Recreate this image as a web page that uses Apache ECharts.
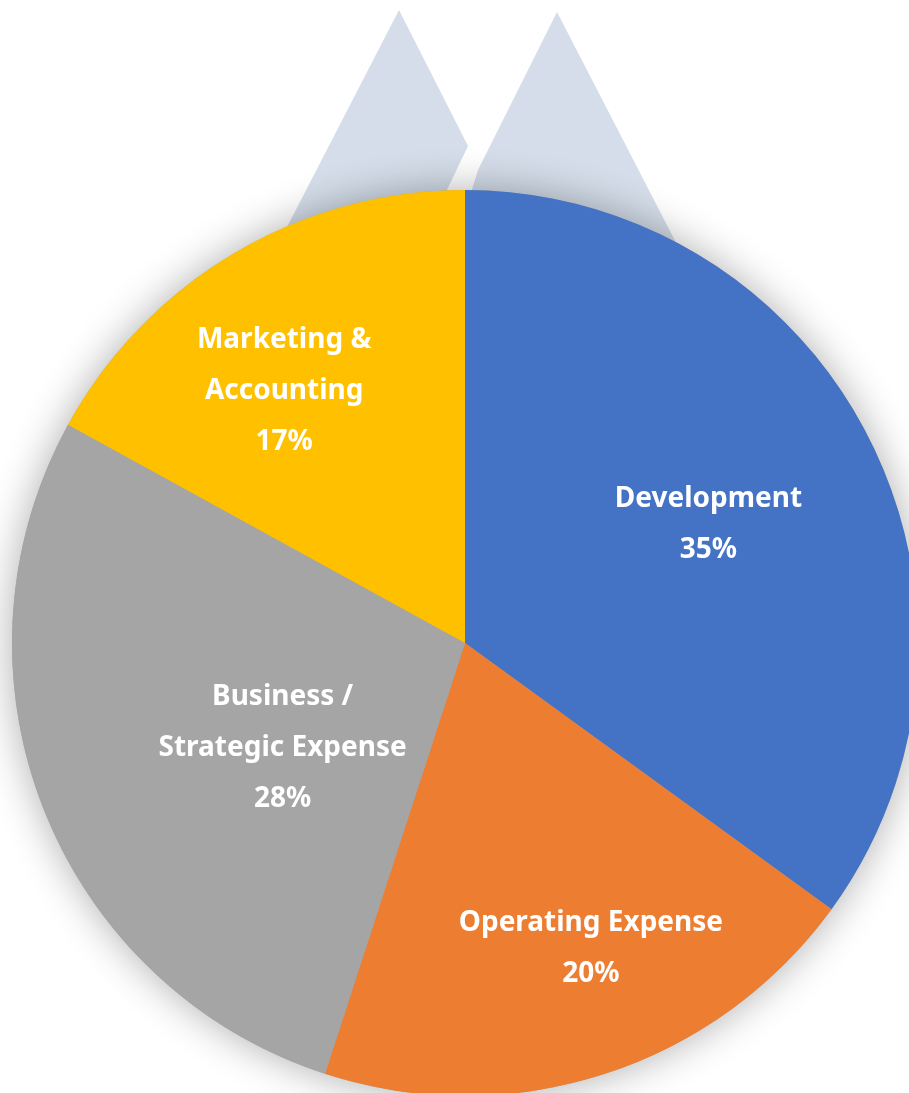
<!DOCTYPE html>
<html>
<head>
<meta charset="utf-8">
<style>
html,body{margin:0;padding:0;background:#fff;}
#chart{width:909px;height:1093px;}
</style>
<script src="https://cdn.jsdelivr.net/npm/echarts@6/dist/echarts.min.js"></script>
</head>
<body>
<div id="chart"></div>
<script>
// Data
const categories = ['Development', 'Operating Expense', 'Business /\nStrategic Expense', 'Marketing &\nAccounting'];
const values = [35, 20, 28, 17];
const colors = ['#4472C4', '#ED7D31', '#A5A5A5', '#FFC000'];
// label offsets (px) relative to the default inside position
const labelOffsets = [[39, -14], [55, 87], [31, 21], [-64, -54]];

const chart = echarts.init(document.getElementById('chart'), null, {renderer: 'canvas'});

const pieData = categories.map((name, i) => ({
  name: name,
  value: values[i],
  itemStyle: {color: colors[i]},
  label: {offset: labelOffsets[i]}
}));

const triColor = '#D4DDE9';

chart.setOption({
  animation: false,
  backgroundColor: '#ffffff',
  graphic: [
    {type: 'polygon', z: 0, shape: {points: [[399, 10], [468, 146], [444, 196], [270, 260]]}, style: {fill: triColor}},
    {type: 'polygon', z: 0, shape: {points: [[557, 12], [686, 262], [470, 196], [478, 170]]}, style: {fill: triColor}}
  ],
  series: [
    {
      type: 'pie',
      silent: true,
      center: [465, 643],
      radius: [0, 453],
      z: 1,
      label: {show: false},
      labelLine: {show: false},
      itemStyle: {color: '#A5A5A5', shadowBlur: 40, shadowColor: 'rgba(0,0,0,0.32)'},
      data: [{value: 1, name: 'bg'}]
    },
    {
      type: 'pie',
      silent: true,
      center: [465, 643],
      radius: [0, 453],
      startAngle: 90,
      clockwise: true,
      z: 2,
      labelLine: {show: false},
      label: {
        show: true,
        position: 'inside',
        color: '#ffffff',
        fontFamily: 'Noto Sans',
        fontWeight: 'bold',
        fontSize: 28,
        lineHeight: 51,
        align: 'center',
        formatter: p => p.name + '\n' + Math.round(p.percent) + '%'
      },
      itemStyle: {borderWidth: 0},
      data: pieData
    }
  ]
});
</script>
</body>
</html>
